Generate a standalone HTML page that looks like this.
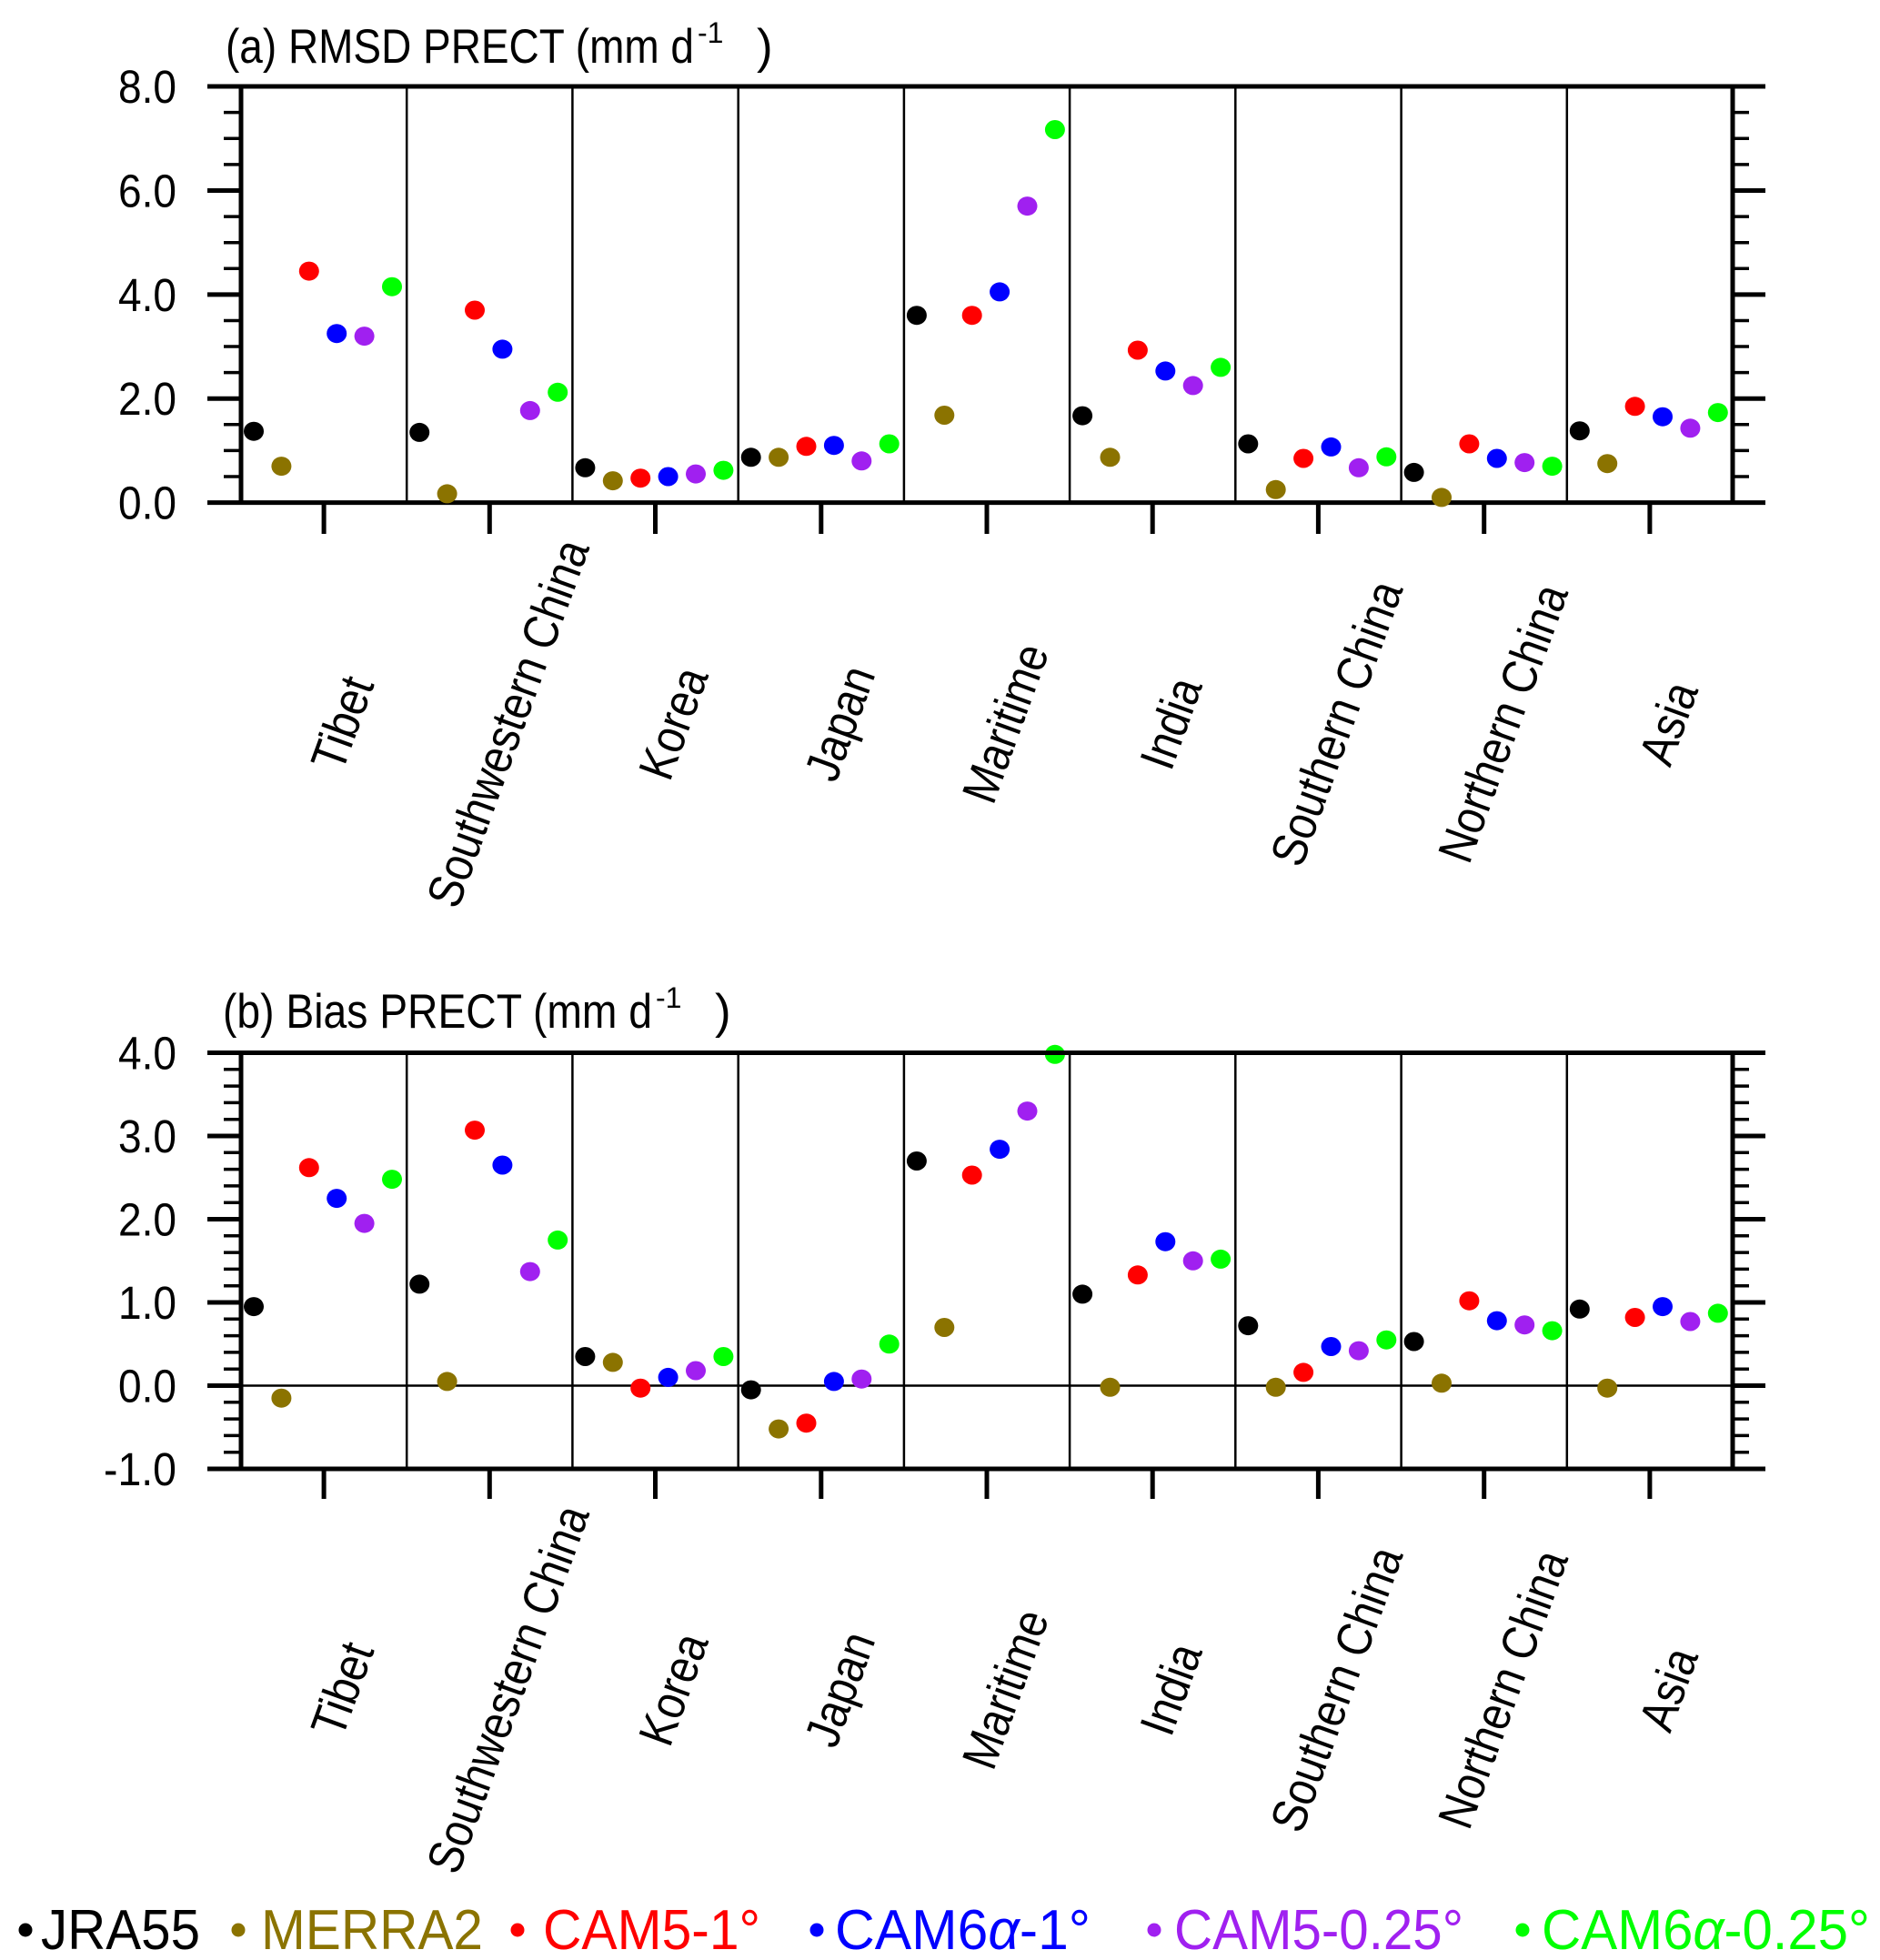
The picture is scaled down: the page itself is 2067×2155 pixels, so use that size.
<!DOCTYPE html>
<html><head><meta charset="utf-8"><style>
html,body{margin:0;padding:0;background:#fff;}
svg{display:block;}
text{font-family:"Liberation Sans",Arial,sans-serif;}
</style></head><body>
<svg width="2067" height="2155" viewBox="0 0 2067 2155" xmlns="http://www.w3.org/2000/svg">
<!-- ===== Panel A ===== -->
<text x="248" y="69" font-size="53" textLength="515" lengthAdjust="spacingAndGlyphs">(a) RMSD PRECT (mm d</text>
<text x="767" y="47" font-size="32">-1</text>
<text x="832" y="69" font-size="53">)</text>
<g font-size="51" text-anchor="end">
<text x="194" y="113" textLength="64" lengthAdjust="spacingAndGlyphs">8.0</text>
<text x="194" y="227.5" textLength="64" lengthAdjust="spacingAndGlyphs">6.0</text>
<text x="194" y="342" textLength="64" lengthAdjust="spacingAndGlyphs">4.0</text>
<text x="194" y="456" textLength="64" lengthAdjust="spacingAndGlyphs">2.0</text>
<text x="194" y="570.6" textLength="64" lengthAdjust="spacingAndGlyphs">0.0</text>
</g>
<g stroke="#000" fill="none">
<path stroke-width="2.5" d="M447.2 95V552.6M629.4 95V552.6M811.7 95V552.6M993.9 95V552.6M1176.1 95V552.6M1358.3 95V552.6M1540.6 95V552.6M1722.8 95V552.6"/>
<path stroke-width="3.5" d="M246 524H265M246 495.4H265M246 466.8H265M246 409.6H265M246 381H265M246 352.5H265M246 295.3H265M246 266.7H265M246 238.1H265M246 180.9H265M246 152.3H265M246 123.6H265
M1905 524H1923M1905 495.4H1923M1905 466.8H1923M1905 409.6H1923M1905 381H1923M1905 352.5H1923M1905 295.3H1923M1905 266.7H1923M1905 238.1H1923M1905 180.9H1923M1905 152.3H1923M1905 123.6H1923"/>
<path stroke-width="5" d="M228 95H1941M228 552.6H1941M265 95V552.6M1905 95V552.6M228 438.2H265M228 323.9H265M228 209.5H265M1905 438.2H1941M1905 323.9H1941M1905 209.5H1941
M356.1 552.6V587M538.3 552.6V587M720.5 552.6V587M902.8 552.6V587M1085 552.6V587M1267.2 552.6V587M1449.4 552.6V587M1631.7 552.6V587M1813.9 552.6V587"/>
</g>
<g>
<ellipse cx="279" cy="474.2" rx="11" ry="10.5" fill="#000"/><ellipse cx="309.4" cy="512.6" rx="11" ry="10.5" fill="#8b7300"/><ellipse cx="339.8" cy="298.1" rx="11" ry="10.5" fill="#f00"/><ellipse cx="370.2" cy="366.7" rx="11" ry="10.5" fill="#00f"/><ellipse cx="400.6" cy="369.6" rx="11" ry="10.5" fill="#a020f0"/><ellipse cx="431" cy="315.2" rx="11" ry="10.5" fill="#0f0"/>
<ellipse cx="461.2" cy="475.4" rx="11" ry="10.5" fill="#000"/><ellipse cx="491.6" cy="542.9" rx="11" ry="10.5" fill="#8b7300"/><ellipse cx="522" cy="341" rx="11" ry="10.5" fill="#f00"/><ellipse cx="552.4" cy="383.9" rx="11" ry="10.5" fill="#00f"/><ellipse cx="582.8" cy="451.4" rx="11" ry="10.5" fill="#a020f0"/><ellipse cx="613.2" cy="431.3" rx="11" ry="10.5" fill="#0f0"/>
<ellipse cx="643.4" cy="514.3" rx="11" ry="10.5" fill="#000"/><ellipse cx="673.8" cy="528.6" rx="11" ry="10.5" fill="#8b7300"/><ellipse cx="704.2" cy="525.7" rx="11" ry="10.5" fill="#f00"/><ellipse cx="734.6" cy="524" rx="11" ry="10.5" fill="#00f"/><ellipse cx="765" cy="521.1" rx="11" ry="10.5" fill="#a020f0"/><ellipse cx="795.4" cy="517.1" rx="11" ry="10.5" fill="#0f0"/>
<ellipse cx="825.7" cy="502.8" rx="11" ry="10.5" fill="#000"/><ellipse cx="856.1" cy="502.8" rx="11" ry="10.5" fill="#8b7300"/><ellipse cx="886.5" cy="490.8" rx="11" ry="10.5" fill="#f00"/><ellipse cx="916.9" cy="489.7" rx="11" ry="10.5" fill="#00f"/><ellipse cx="947.3" cy="506.8" rx="11" ry="10.5" fill="#a020f0"/><ellipse cx="977.7" cy="488" rx="11" ry="10.5" fill="#0f0"/>
<ellipse cx="1007.9" cy="346.7" rx="11" ry="10.5" fill="#000"/><ellipse cx="1038.3" cy="456.5" rx="11" ry="10.5" fill="#8b7300"/><ellipse cx="1068.7" cy="346.7" rx="11" ry="10.5" fill="#f00"/><ellipse cx="1099.1" cy="320.9" rx="11" ry="10.5" fill="#00f"/><ellipse cx="1129.5" cy="226.6" rx="11" ry="10.5" fill="#a020f0"/><ellipse cx="1159.9" cy="142.5" rx="11" ry="10.5" fill="#0f0"/>
<ellipse cx="1190.1" cy="457.1" rx="11" ry="10.5" fill="#000"/><ellipse cx="1220.5" cy="502.8" rx="11" ry="10.5" fill="#8b7300"/><ellipse cx="1250.9" cy="385" rx="11" ry="10.5" fill="#f00"/><ellipse cx="1281.3" cy="407.9" rx="11" ry="10.5" fill="#00f"/><ellipse cx="1311.7" cy="423.9" rx="11" ry="10.5" fill="#a020f0"/><ellipse cx="1342.1" cy="403.9" rx="11" ry="10.5" fill="#0f0"/>
<ellipse cx="1372.3" cy="488" rx="11" ry="10.5" fill="#000"/><ellipse cx="1402.7" cy="538.3" rx="11" ry="10.5" fill="#8b7300"/><ellipse cx="1433.1" cy="504" rx="11" ry="10.5" fill="#f00"/><ellipse cx="1463.5" cy="491.4" rx="11" ry="10.5" fill="#00f"/><ellipse cx="1493.9" cy="514.3" rx="11" ry="10.5" fill="#a020f0"/><ellipse cx="1524.3" cy="502.3" rx="11" ry="10.5" fill="#0f0"/>
<ellipse cx="1554.6" cy="519.4" rx="11" ry="10.5" fill="#000"/><ellipse cx="1585" cy="546.9" rx="11" ry="10.5" fill="#8b7300"/><ellipse cx="1615.4" cy="488" rx="11" ry="10.5" fill="#f00"/><ellipse cx="1645.8" cy="504" rx="11" ry="10.5" fill="#00f"/><ellipse cx="1676.2" cy="508.6" rx="11" ry="10.5" fill="#a020f0"/><ellipse cx="1706.6" cy="512.6" rx="11" ry="10.5" fill="#0f0"/>
<ellipse cx="1736.8" cy="473.7" rx="11" ry="10.5" fill="#000"/><ellipse cx="1767.2" cy="509.7" rx="11" ry="10.5" fill="#8b7300"/><ellipse cx="1797.6" cy="446.8" rx="11" ry="10.5" fill="#f00"/><ellipse cx="1828" cy="458.2" rx="11" ry="10.5" fill="#00f"/><ellipse cx="1858.4" cy="470.8" rx="11" ry="10.5" fill="#a020f0"/><ellipse cx="1888.8" cy="453.6" rx="11" ry="10.5" fill="#0f0"/>
</g>
<g font-size="54" text-anchor="middle">
<text transform="translate(376,795) rotate(-70)" dy="19" textLength="105" lengthAdjust="spacingAndGlyphs">Tibet</text>
<text transform="translate(558,795) rotate(-70)" dy="19" textLength="425" lengthAdjust="spacingAndGlyphs">Southwestern China</text>
<text transform="translate(740,795) rotate(-70)" dy="19" textLength="126" lengthAdjust="spacingAndGlyphs">Korea</text>
<text transform="translate(923,795) rotate(-70)" dy="19" textLength="129" lengthAdjust="spacingAndGlyphs">Japan</text>
<text transform="translate(1105,795) rotate(-70)" dy="19" textLength="181" lengthAdjust="spacingAndGlyphs">Maritime</text>
<text transform="translate(1287,795) rotate(-70)" dy="19" textLength="102" lengthAdjust="spacingAndGlyphs">India</text>
<text transform="translate(1469,795) rotate(-70)" dy="19" textLength="328" lengthAdjust="spacingAndGlyphs">Southern China</text>
<text transform="translate(1652,795) rotate(-70)" dy="19" textLength="320" lengthAdjust="spacingAndGlyphs">Northern China</text>
<text transform="translate(1834,795) rotate(-70)" dy="19" textLength="92" lengthAdjust="spacingAndGlyphs">Asia</text>
</g>

<!-- ===== Panel B ===== -->
<text x="245" y="1130" font-size="53" textLength="472" lengthAdjust="spacingAndGlyphs">(b) Bias PRECT (mm d</text>
<text x="721" y="1108" font-size="32">-1</text>
<text x="786" y="1130" font-size="53">)</text>
<g font-size="51" text-anchor="end">
<text x="194" y="1175.5" textLength="64" lengthAdjust="spacingAndGlyphs">4.0</text>
<text x="194" y="1267" textLength="64" lengthAdjust="spacingAndGlyphs">3.0</text>
<text x="194" y="1358.5" textLength="64" lengthAdjust="spacingAndGlyphs">2.0</text>
<text x="194" y="1450" textLength="64" lengthAdjust="spacingAndGlyphs">1.0</text>
<text x="194" y="1541.5" textLength="64" lengthAdjust="spacingAndGlyphs">0.0</text>
<text x="194" y="1633" textLength="80" lengthAdjust="spacingAndGlyphs">-1.0</text>
</g>
<g stroke="#000" fill="none">
<path stroke-width="2.5" d="M447.2 1157.5V1615M629.4 1157.5V1615M811.7 1157.5V1615M993.9 1157.5V1615M1176.1 1157.5V1615M1358.3 1157.5V1615M1540.6 1157.5V1615M1722.8 1157.5V1615M265 1523.5H1905"/>
<path stroke-width="3.5" d="M246 1596.7H265M246 1578.4H265M246 1560.1H265M246 1541.8H265M246 1505.2H265M246 1486.9H265M246 1468.6H265M246 1450.3H265M246 1413.7H265M246 1395.4H265M246 1377.1H265M246 1358.8H265M246 1322.2H265M246 1303.9H265M246 1285.6H265M246 1267.3H265M246 1230.7H265M246 1212.4H265M246 1194.1H265M246 1175.8H265
M1905 1596.7H1923M1905 1578.4H1923M1905 1560.1H1923M1905 1541.8H1923M1905 1505.2H1923M1905 1486.9H1923M1905 1468.6H1923M1905 1450.3H1923M1905 1413.7H1923M1905 1395.4H1923M1905 1377.1H1923M1905 1358.8H1923M1905 1322.2H1923M1905 1303.9H1923M1905 1285.6H1923M1905 1267.3H1923M1905 1230.7H1923M1905 1212.4H1923M1905 1194.1H1923M1905 1175.8H1923"/>
</g>
<g>
<ellipse cx="279" cy="1436.6" rx="11" ry="10.5" fill="#000"/><ellipse cx="309.4" cy="1537.2" rx="11" ry="10.5" fill="#8b7300"/><ellipse cx="339.8" cy="1283.8" rx="11" ry="10.5" fill="#f00"/><ellipse cx="370.2" cy="1317.6" rx="11" ry="10.5" fill="#00f"/><ellipse cx="400.6" cy="1345.1" rx="11" ry="10.5" fill="#a020f0"/><ellipse cx="431" cy="1296.6" rx="11" ry="10.5" fill="#0f0"/>
<ellipse cx="461.2" cy="1411.9" rx="11" ry="10.5" fill="#000"/><ellipse cx="491.6" cy="1518.9" rx="11" ry="10.5" fill="#8b7300"/><ellipse cx="522" cy="1242.6" rx="11" ry="10.5" fill="#f00"/><ellipse cx="552.4" cy="1281" rx="11" ry="10.5" fill="#00f"/><ellipse cx="582.8" cy="1398.1" rx="11" ry="10.5" fill="#a020f0"/><ellipse cx="613.2" cy="1363.4" rx="11" ry="10.5" fill="#0f0"/>
<ellipse cx="643.4" cy="1491.5" rx="11" ry="10.5" fill="#000"/><ellipse cx="673.8" cy="1497.9" rx="11" ry="10.5" fill="#8b7300"/><ellipse cx="704.2" cy="1526.2" rx="11" ry="10.5" fill="#f00"/><ellipse cx="734.6" cy="1514.4" rx="11" ry="10.5" fill="#00f"/><ellipse cx="765" cy="1507" rx="11" ry="10.5" fill="#a020f0"/><ellipse cx="795.4" cy="1491.5" rx="11" ry="10.5" fill="#0f0"/>
<ellipse cx="825.7" cy="1528.1" rx="11" ry="10.5" fill="#000"/><ellipse cx="856.1" cy="1571.1" rx="11" ry="10.5" fill="#8b7300"/><ellipse cx="886.5" cy="1564.7" rx="11" ry="10.5" fill="#f00"/><ellipse cx="916.9" cy="1518.9" rx="11" ry="10.5" fill="#00f"/><ellipse cx="947.3" cy="1516.2" rx="11" ry="10.5" fill="#a020f0"/><ellipse cx="977.7" cy="1477.8" rx="11" ry="10.5" fill="#0f0"/>
<ellipse cx="1007.9" cy="1276.5" rx="11" ry="10.5" fill="#000"/><ellipse cx="1038.3" cy="1459.5" rx="11" ry="10.5" fill="#8b7300"/><ellipse cx="1068.7" cy="1292" rx="11" ry="10.5" fill="#f00"/><ellipse cx="1099.1" cy="1263.6" rx="11" ry="10.5" fill="#00f"/><ellipse cx="1129.5" cy="1221.6" rx="11" ry="10.5" fill="#a020f0"/><ellipse cx="1159.9" cy="1159.3" rx="11" ry="10.5" fill="#0f0"/>
<ellipse cx="1190.1" cy="1422.9" rx="11" ry="10.5" fill="#000"/><ellipse cx="1220.5" cy="1525.3" rx="11" ry="10.5" fill="#8b7300"/><ellipse cx="1250.9" cy="1401.8" rx="11" ry="10.5" fill="#f00"/><ellipse cx="1281.3" cy="1365.2" rx="11" ry="10.5" fill="#00f"/><ellipse cx="1311.7" cy="1386.3" rx="11" ry="10.5" fill="#a020f0"/><ellipse cx="1342.1" cy="1384.4" rx="11" ry="10.5" fill="#0f0"/>
<ellipse cx="1372.3" cy="1457.6" rx="11" ry="10.5" fill="#000"/><ellipse cx="1402.7" cy="1525.3" rx="11" ry="10.5" fill="#8b7300"/><ellipse cx="1433.1" cy="1508.9" rx="11" ry="10.5" fill="#f00"/><ellipse cx="1463.5" cy="1480.5" rx="11" ry="10.5" fill="#00f"/><ellipse cx="1493.9" cy="1485.1" rx="11" ry="10.5" fill="#a020f0"/><ellipse cx="1524.3" cy="1473.2" rx="11" ry="10.5" fill="#0f0"/>
<ellipse cx="1554.6" cy="1475" rx="11" ry="10.5" fill="#000"/><ellipse cx="1585" cy="1520.8" rx="11" ry="10.5" fill="#8b7300"/><ellipse cx="1615.4" cy="1430.2" rx="11" ry="10.5" fill="#f00"/><ellipse cx="1645.8" cy="1452.1" rx="11" ry="10.5" fill="#00f"/><ellipse cx="1676.2" cy="1456.7" rx="11" ry="10.5" fill="#a020f0"/><ellipse cx="1706.6" cy="1463.1" rx="11" ry="10.5" fill="#0f0"/>
<ellipse cx="1736.8" cy="1439.3" rx="11" ry="10.5" fill="#000"/><ellipse cx="1767.2" cy="1526.2" rx="11" ry="10.5" fill="#8b7300"/><ellipse cx="1797.6" cy="1448.5" rx="11" ry="10.5" fill="#f00"/><ellipse cx="1828" cy="1436.6" rx="11" ry="10.5" fill="#00f"/><ellipse cx="1858.4" cy="1453" rx="11" ry="10.5" fill="#a020f0"/><ellipse cx="1888.8" cy="1443.9" rx="11" ry="10.5" fill="#0f0"/>
</g>
<path stroke="#000" fill="none" stroke-width="5" d="M228 1157.5H1941M228 1615H1941M265 1157.5V1615M1905 1157.5V1615M228 1523.5H265M228 1432H265M228 1340.5H265M228 1249H265M1905 1523.5H1941M1905 1432H1941M1905 1340.5H1941M1905 1249H1941
M356.1 1615V1648M538.3 1615V1648M720.5 1615V1648M902.8 1615V1648M1085 1615V1648M1267.2 1615V1648M1449.4 1615V1648M1631.7 1615V1648M1813.9 1615V1648"/>
<g font-size="54" text-anchor="middle">
<text transform="translate(376,1857) rotate(-70)" dy="19" textLength="105" lengthAdjust="spacingAndGlyphs">Tibet</text>
<text transform="translate(558,1857) rotate(-70)" dy="19" textLength="425" lengthAdjust="spacingAndGlyphs">Southwestern China</text>
<text transform="translate(740,1857) rotate(-70)" dy="19" textLength="126" lengthAdjust="spacingAndGlyphs">Korea</text>
<text transform="translate(923,1857) rotate(-70)" dy="19" textLength="129" lengthAdjust="spacingAndGlyphs">Japan</text>
<text transform="translate(1105,1857) rotate(-70)" dy="19" textLength="181" lengthAdjust="spacingAndGlyphs">Maritime</text>
<text transform="translate(1287,1857) rotate(-70)" dy="19" textLength="102" lengthAdjust="spacingAndGlyphs">India</text>
<text transform="translate(1469,1857) rotate(-70)" dy="19" textLength="328" lengthAdjust="spacingAndGlyphs">Southern China</text>
<text transform="translate(1652,1857) rotate(-70)" dy="19" textLength="320" lengthAdjust="spacingAndGlyphs">Northern China</text>
<text transform="translate(1834,1857) rotate(-70)" dy="19" textLength="92" lengthAdjust="spacingAndGlyphs">Asia</text>
</g>

<!-- ===== Legend ===== -->
<g font-size="62">
<circle cx="28" cy="2122" r="7.5" fill="#000"/>
<text x="45" y="2143" fill="#000" textLength="175" lengthAdjust="spacingAndGlyphs">JRA55</text>
<circle cx="262" cy="2122" r="7.5" fill="#8b7300"/>
<text x="287" y="2143" fill="#8b7300" textLength="244" lengthAdjust="spacingAndGlyphs">MERRA2</text>
<circle cx="569" cy="2122" r="7.5" fill="#f00"/>
<text x="597" y="2143" fill="#f00" textLength="239" lengthAdjust="spacingAndGlyphs">CAM5-1°</text>
<circle cx="898" cy="2122" r="7.5" fill="#00f"/>
<text x="918" y="2143" fill="#00f" textLength="281" lengthAdjust="spacingAndGlyphs">CAM6<tspan font-style="italic">α</tspan>-1°</text>
<circle cx="1269" cy="2122" r="7.5" fill="#a020f0"/>
<text x="1291" y="2143" fill="#a020f0" textLength="318" lengthAdjust="spacingAndGlyphs">CAM5-0.25°</text>
<circle cx="1674" cy="2122" r="7.5" fill="#0f0"/>
<text x="1695" y="2143" fill="#0f0" textLength="361" lengthAdjust="spacingAndGlyphs">CAM6<tspan font-style="italic">α</tspan>-0.25°</text>
</g>
</svg>
</body></html>
